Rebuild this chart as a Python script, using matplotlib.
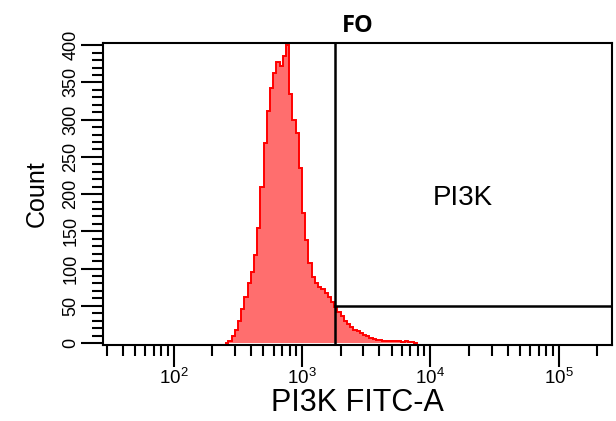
import matplotlib
matplotlib.use("Agg")
import matplotlib.pyplot as plt
import numpy as np
from matplotlib.ticker import MultipleLocator, LogLocator

plt.rcParams['font.family'] = ['Liberation Sans', 'DejaVu Sans']
plt.rcParams['mathtext.fontset'] = 'custom'
plt.rcParams['mathtext.rm'] = 'Liberation Sans'

# histogram bins: log10 of left edge of first bin, bin width in decades
first_edge_log = 2.40
bin_width_log = 0.025
counts = [0, 2, 9, 18, 30, 46, 62, 80, 95, 118,
          155, 210, 268, 312, 342, 362, 378, 372, 385, 400,
          335, 300, 282, 235, 175, 138, 108, 88, 80, 75,
          72, 67, 62, 55, 48, 42, 36, 30, 25, 21,
          18, 16, 13, 11, 9, 7, 6, 4, 4, 3,
          3, 2, 3, 2, 2, 1, 2, 1, 1, 0]

gate_x = 1800
gate_y = 50
gate_name = "PI3K"
gate_label_pos = (18000, 195)

edges = 10 ** (first_edge_log + bin_width_log * np.arange(len(counts) + 1))

fig = plt.figure(figsize=(6.16, 4.21), dpi=100)
ax = fig.add_axes([0.167, 0.18, 0.827, 0.718])

ax.stairs(counts, edges, fill=True, color="#ff6e6e", lw=0)
ax.stairs(counts, edges, color="#ff0000", lw=1.4)

ax.set_xscale("log")
ax.set_xlim(28, 262144)
ax.set_ylim(-3, 403)

# gate
ax.axvline(gate_x, color="black", lw=1.8)
ax.plot([gate_x, 262144], [gate_y, gate_y], color="black", lw=1.8)
ax.text(gate_label_pos[0], gate_label_pos[1], gate_name, fontsize=20,
        ha="center", va="center")

ax.yaxis.set_major_locator(MultipleLocator(50))
ax.yaxis.set_minor_locator(MultipleLocator(10))
ax.xaxis.set_major_locator(LogLocator(base=10))
ax.xaxis.set_minor_locator(LogLocator(base=10, subs=np.arange(2, 10)))

ax.tick_params(which="major", length=16, width=1.5, direction="out")
ax.tick_params(which="minor", length=8, width=1.5, direction="out")
ax.tick_params(axis="y", labelrotation=90, labelsize=13, pad=1)
ax.tick_params(axis="x", labelsize=13.5, pad=0)
for lab in ax.get_yticklabels():
    lab.set_va("center")

for s in ax.spines.values():
    s.set_linewidth(1.5)

ax.set_ylabel("Count", fontsize=18, labelpad=10)
ax.set_xlabel("PI3K FITC-A", fontsize=22, labelpad=0)
ax.set_title("FO", fontsize=17, fontweight="bold",
             family=["Open Sans", "DejaVu Sans"], pad=8)

fig.savefig("out.png", dpi=100)
